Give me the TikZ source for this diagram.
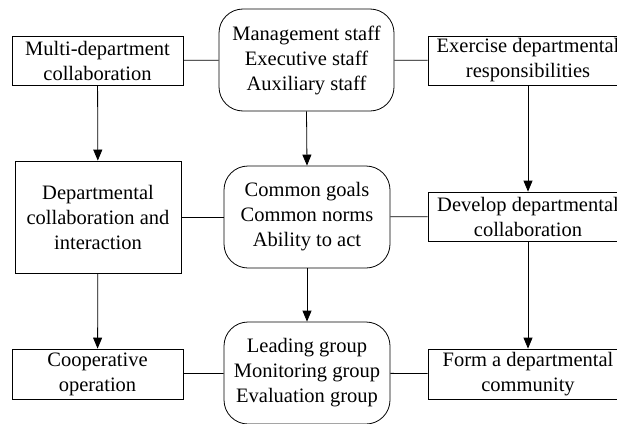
\documentclass[tikz,border=0pt]{standalone}
\usepackage{fontspec}
\setmainfont{Liberation Serif}
\newfontfamily\diagfont{Liberation Serif}
\usetikzlibrary{arrows.meta}

\begin{document}
\begin{tikzpicture}
	[x=1pt,y=-1pt,line width=0.8pt,
	every node/.style={draw, inner sep=0pt, align=center, font=\diagfont\fontsize{20.5}{25}\selectfont},
	box/.style={rectangle, minimum width=171pt, minimum height=49pt},
	wide/.style={rectangle, minimum width=200pt, minimum height=49pt},
	round/.style={rectangle, rounded corners=24pt, minimum width=166pt, minimum height=102pt},
	arr/.style={-{Triangle[length=11pt,width=9pt]}}]
	\useasboundingbox (0,0) rectangle (617,423);
	% left column
	\node[box] (multi) at (97.5,60.5) {Multi-department\\collaboration};
	\node[rectangle, minimum width=166pt, minimum height=112pt] (dept) at (98,217) {Departmental\\collaboration and\\interaction};
	\node[box, minimum height=50pt] (coop) at (97.5,374) {Cooperative\\operation};
	% middle column
	\node[round, minimum width=175pt] (staff) at (306.5,60) {Management staff\\Executive staff\\Auxiliary staff};
	\node[round] (goals) at (307,217) {Common goals\\Common norms\\Ability to act};
	\node[round] (group) at (307,373) {Leading group\\Monitoring group\\Evaluation group};
	% right column
	\node[wide] (exercise) at (528,60.5) {Exercise departmental\\responsibilities};
	\node[wide] (develop) at (528,216.5) {Develop departmental\\collaboration};
	\node[wide, minimum height=50pt] (form) at (528,374) {Form a departmental\\community};
	
	\draw (multi) -- (staff);
	\draw (staff) -- (exercise);
	\draw (dept) -- (goals);
	\draw (goals) -- (develop);
	\draw (coop) -- (group);
	\draw (group) -- (form);
	\draw[arr] (multi) -- (dept);
	\draw[arr] (dept) -- (coop);
	\draw[arr] (staff.south) -- (goals.north);
	\draw[arr] (goals) -- (group);
	\draw[arr] (exercise) -- (develop);
	\draw[arr] (develop) -- (form);
\end{tikzpicture}
\end{document}
